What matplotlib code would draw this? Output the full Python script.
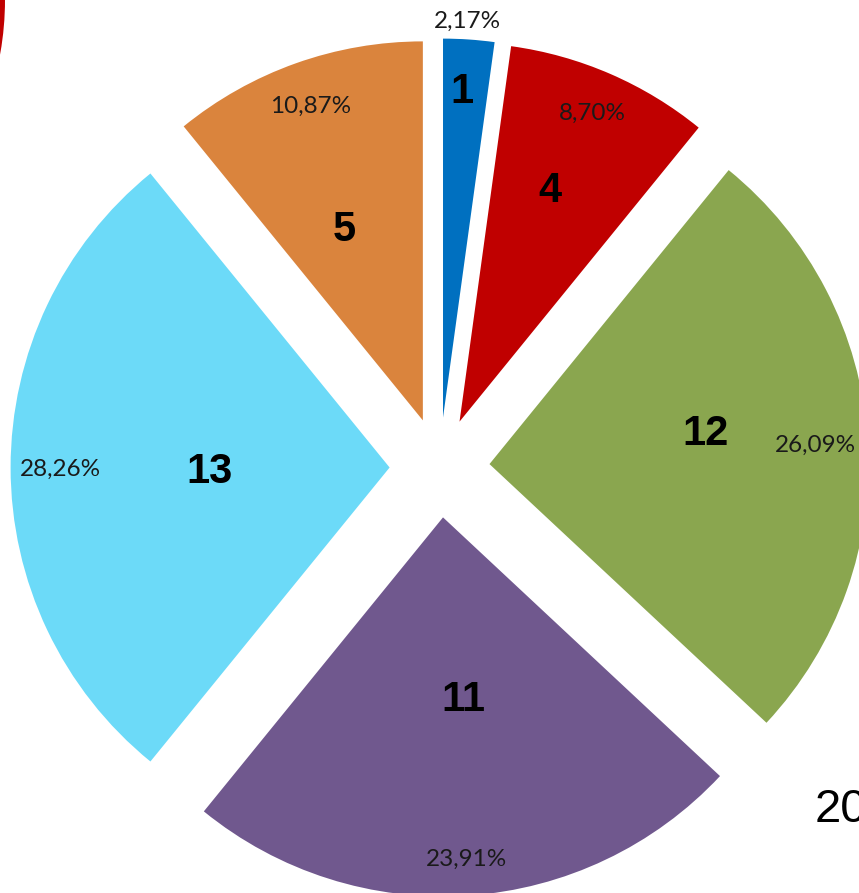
import matplotlib
matplotlib.use('Agg')
import matplotlib.pyplot as plt
import numpy as np
from matplotlib.patches import Arc

# ---- data ----
categories = ['1', '4', '12', '11', '13', '5']
values = [1, 4, 12, 11, 13, 5]
percent_labels = ['2,17%', '8,70%', '26,09%', '23,91%', '28,26%', '10,87%']
colors = ['#0070C0', '#C00000', '#8AA64F', '#70588E', '#6CDAF8', '#DA843D']

# ---- layout (pixels of the 859x893 canvas) ----
W, H = 859, 893
cx, cy, R = 439.6, 467.5, 379.0   # pie centre and radius in pixels (from top-left)
explode_px = 50.0

num_r = [0.873, 0.664, 0.577, 0.473, 0.475, 0.555]
num_d = [0.7, 2.4, 5.3, 2.5, 0.0, 2.4]
pct_r = [1.053, 0.890, 0.861, 0.899, 0.868, 0.886]
pct_d = [0.4, 0.2, -0.2, 0.1, 0.0, 0.0]

fig = plt.figure(figsize=(W / 100, H / 100), dpi=100)
ax = fig.add_axes([0, 0, 1, 1])
wedges, _ = ax.pie(values, colors=colors, startangle=90, counterclock=False,
                   explode=[explode_px / R] * len(values), radius=1,
                   wedgeprops=dict(linewidth=0))
ax.set_aspect('auto')
ax.set_xlim(-cx / R, (W - cx) / R)
ax.set_ylim(-(H - cy) / R, cy / R)
ax.axis('off')

for w, cat, pct, nr, nd, pr, pd in zip(wedges, categories, percent_labels,
                                        num_r, num_d, pct_r, pct_d):
    mid = 0.5 * (w.theta1 + w.theta2)
    x0, y0 = w.center
    a = np.deg2rad(mid + nd)
    ax.text(x0 + nr * np.cos(a), y0 + nr * np.sin(a), cat,
            ha='center', va='center_baseline', fontsize=30, fontweight='bold',
            family='Liberation Sans', color='black')
    a = np.deg2rad(mid + pd)
    ax.text(x0 + pr * np.cos(a), y0 + pr * np.sin(a), pct,
            ha='center', va='center_baseline', fontsize=17.5, family='Lato',
            color='#1a1a1a')

# ---- decorations from the surrounding slide ----
ov = fig.add_axes([0, 0, 1, 1], facecolor='none')
ov.set_xlim(0, W)
ov.set_ylim(H, 0)
ov.axis('off')
ov.add_patch(Arc((-300, 0), 604, 604, theta1=-20, theta2=20,
                 color='#C00000', lw=4.3))
ov.text(815, 822, '20', ha='left', va='baseline', fontsize=34,
        family='Liberation Sans', color='black')

fig.savefig('out.png', dpi=100)
